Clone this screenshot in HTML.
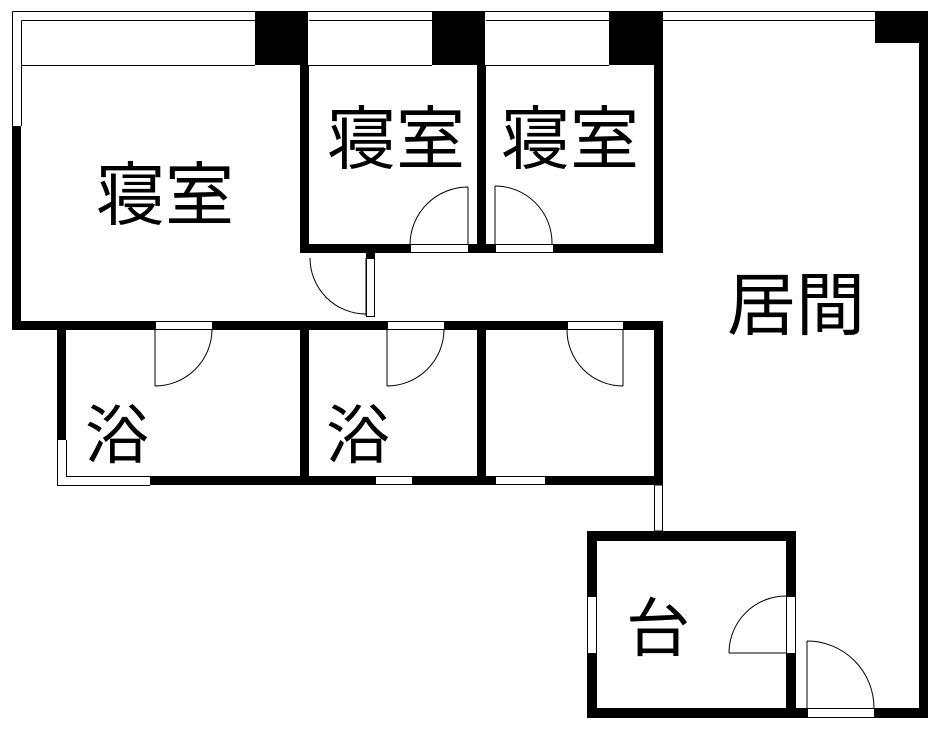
<!DOCTYPE html>
<html><head><meta charset="utf-8"><style>html,body{margin:0;padding:0;background:#fff}svg{display:block}text{font-family:"Liberation Sans","Noto Sans CJK JP",sans-serif;fill:#000}</style></head>
<body>
<svg width="944" height="732" viewBox="0 0 944 732" xmlns="http://www.w3.org/2000/svg">
<g fill="#000">
<rect x="255" y="11" width="53" height="54"/>
<rect x="432" y="11" width="53" height="54"/>
<rect x="609" y="11" width="54" height="54"/>
<rect x="875" y="11" width="53" height="32"/>
<rect x="919" y="43" width="9" height="675"/>
<rect x="12" y="126" width="9" height="204"/>
<rect x="300" y="65" width="9" height="188"/>
<rect x="477" y="65" width="9" height="188"/>
<rect x="654" y="65" width="9" height="188"/>
<rect x="300" y="244" width="363" height="9"/>
<rect x="366" y="253" width="9" height="5"/>
<rect x="12" y="321" width="651" height="9"/>
<rect x="57" y="330" width="9" height="110"/>
<rect x="300" y="330" width="9" height="155"/>
<rect x="477" y="330" width="9" height="155"/>
<rect x="654" y="321" width="9" height="164"/>
<rect x="150" y="476" width="513" height="9"/>
<rect x="587" y="531" width="209" height="10"/>
<rect x="587" y="541" width="10" height="177"/>
<rect x="786" y="541" width="10" height="177"/>
<rect x="587" y="708" width="341" height="10"/>
</g>
<g fill="#fff" stroke="#000" stroke-width="1">
<path d="M12.5 11.5H928M21.5 20.5H255M309 20.5H432M486 20.5H609M663 20.5H875M12.5 11.5V126M21.5 20.5V126M21 65.5H255M309 65.5H432M486 65.5H609" fill="none"/>
<rect x="366.5" y="258.5" width="8" height="58"/>
<rect x="155.5" y="321.5" width="57" height="8"/>
<rect x="387.5" y="321.5" width="57" height="8"/>
<rect x="567.5" y="321.5" width="56" height="8"/>
<rect x="410.5" y="244.5" width="58" height="8"/>
<rect x="495.5" y="244.5" width="58" height="8"/>
<rect x="375.5" y="476.5" width="37" height="8"/>
<rect x="495.5" y="476.5" width="50" height="8"/>
<path d="M57.5 440V485.5H150M66.5 440V476.5H150" fill="none"/>
<rect x="654.5" y="485" width="8" height="46"/>
<rect x="587.5" y="596.5" width="9" height="57"/>
<rect x="786.5" y="596.5" width="9" height="57"/>
<rect x="807.5" y="708.5" width="67" height="9"/>
</g>
<g fill="none" stroke="#000" stroke-width="1">
<path d="M366 258V316M310 258A56 56 0 0 0 366 314"/>
<path d="M468 187V244M410 244A58 58 0 0 1 468 187"/>
<path d="M495 186V244M495 186A57 57 0 0 1 552 244"/>
<path d="M155 330V386M155 386A57 57 0 0 0 212 330"/>
<path d="M387 330V386M387 386A57 57 0 0 0 444 330"/>
<path d="M623 330V386M623 386A56 56 0 0 1 567 330"/>
<path d="M729 653H786M729 653A57 57 0 0 1 786 596"/>
<path d="M807 641V708M807 641A67 67 0 0 1 874 708"/>
</g>
<g font-size="69">
<text x="96" y="219">寝室</text>
<text x="327" y="163">寝室</text>
<text x="501" y="163">寝室</text>
<text x="727" y="329">居間</text>
<text x="85" y="458" font-size="64">浴</text>
<text x="326" y="458" font-size="64">浴</text>
<text x="626" y="651" font-size="64">台</text>
</g>
</svg>
</body></html>
